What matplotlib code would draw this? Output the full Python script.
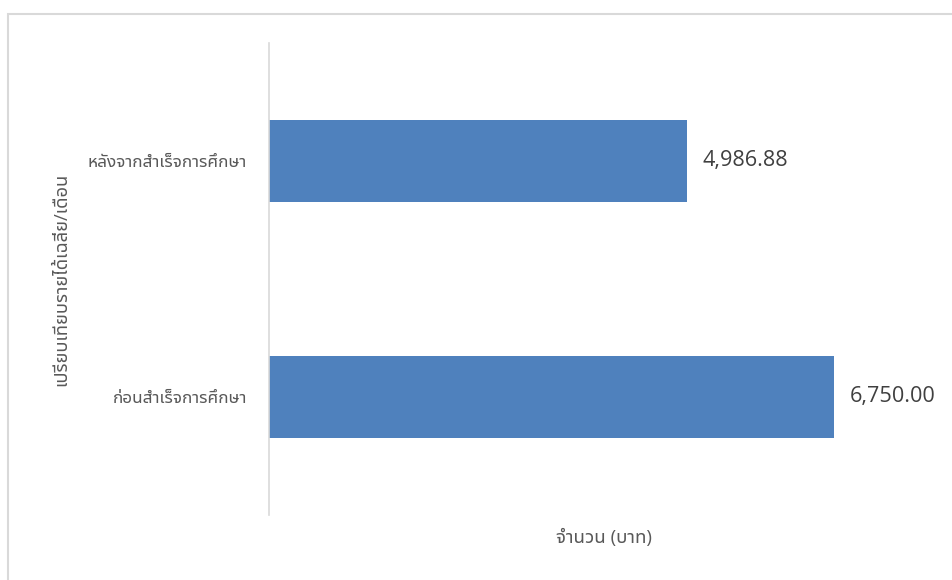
import matplotlib
matplotlib.use("Agg")
import matplotlib.pyplot as plt
from matplotlib.patches import Rectangle

# data
CATEGORIES = ["ก่อนสำเร็จการศึกษา", "หลังจากสำเร็จการศึกษา"]
VALUES = [6750.00, 4986.88]
X_LABEL = "จำนวน (บาท)"
Y_LABEL = "เปรียบเทียบรายได้เฉลี่ย/เดือน"
X_MAX = 8000

BAR_COLOR = "#4F81BD"
TEXT_COLOR = "#595959"
LINE_COLOR = "#D9D9D9"
THAI_FONT = ["Noto Sans Thai UI", "Open Sans", "DejaVu Sans"]
NUM_FONT = ["Open Sans", "DejaVu Sans"]


def main() -> None:
    fig = plt.figure(figsize=(9.53, 5.8), dpi=100)
    ax = fig.add_axes([0.2823, 0.1121, 0.703, 0.8138])

    # chart-area frame, clipped at the right and bottom edges
    fig.patches.append(Rectangle((8 / 953, -0.05), 1.0, 1 - 13.5 / 580 + 0.05,
                                 transform=fig.transFigure, fill=False,
                                 edgecolor=LINE_COLOR, lw=1.5))

    y = list(range(len(CATEGORIES)))
    ax.barh(y, VALUES, height=0.35, color=BAR_COLOR)
    ax.set_xlim(0, X_MAX)
    ax.set_ylim(-0.5, len(CATEGORIES) - 0.5)

    ax.set_yticks(y, labels=CATEGORIES)
    for lbl in ax.get_yticklabels():
        lbl.set_family(THAI_FONT)
        lbl.set_fontsize(12.4)
        lbl.set_color(TEXT_COLOR)
    ax.tick_params(axis="y", length=0, pad=16)
    ax.set_xticks([])

    for yi, v in zip(y, VALUES):
        ax.text(v + 190, yi, f"{v:,.2f}", va="center", ha="left",
                fontsize=15.6, color="#404040", family=NUM_FONT)

    for side in ("top", "right", "bottom"):
        ax.spines[side].set_visible(False)
    ax.spines["left"].set_color(LINE_COLOR)
    ax.spines["left"].set_linewidth(1.2)

    ax.set_xlabel(X_LABEL, family=THAI_FONT, fontsize=13.5, color=TEXT_COLOR, labelpad=10)
    ax.set_ylabel(Y_LABEL, family=THAI_FONT, fontsize=13.2, color=TEXT_COLOR)
    ax.yaxis.set_label_coords(-0.297, 0.5)

    fig.savefig("out.png")
    plt.close(fig)


if __name__ == "__main__":
    main()
